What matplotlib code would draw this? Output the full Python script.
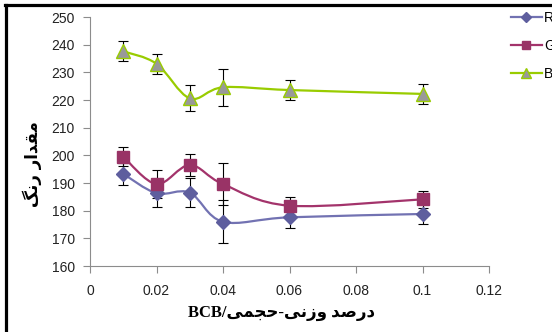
import re
import numpy as np
import matplotlib
matplotlib.use("Agg")
import matplotlib.pyplot as plt
from matplotlib.path import Path
from matplotlib.patches import PathPatch
from matplotlib.lines import Line2D

plt.rcParams['font.family'] = ['Liberation Sans', 'DejaVu Sans']

# data
x = [0.01, 0.02, 0.03, 0.04, 0.06, 0.1]
r_vals = [193.3, 186.3, 186.5, 176.0, 177.6, 178.8]
r_err = [4.0, 5.0, 5.3, 7.8, 4.0, 3.6]
g_vals = [199.5, 189.6, 196.5, 189.6, 181.8, 184.1]
g_err = [3.4, 5.0, 4.0, 7.7, 3.3, 3.1]
b_vals = [237.6, 233.1, 220.6, 224.6, 223.6, 222.2]
b_err = [3.6, 3.6, 4.7, 6.6, 3.6, 3.6]
labels = ['R', 'G', 'B']
xticks = [0, 0.02, 0.04, 0.06, 0.08, 0.1, 0.12]
xticklabels = ['0', '0.02', '0.04', '0.06', '0.08', '0.1', '0.12']
yticks = [160, 170, 180, 190, 200, 210, 220, 230, 240, 250]
xlabel = 'درصد وزنی-حجمی/BCB'
ylabel = 'مقدار رنگ'

# simple arabic/persian shaping (matplotlib does not shape)
FORMS = {
    'ا': ('\uFE8D', '\uFE8E', None, None),
    'د': ('\uFEA9', '\uFEAA', None, None),
    'ر': ('\uFEAD', '\uFEAE', None, None),
    'ز': ('\uFEAF', '\uFEB0', None, None),
    'و': ('\uFEED', '\uFEEE', None, None),
    'ص': ('\uFEB9', '\uFEBA', '\uFEBB', '\uFEBC'),
    'ن': ('\uFEE5', '\uFEE6', '\uFEE7', '\uFEE8'),
    'ح': ('\uFEA1', '\uFEA2', '\uFEA3', '\uFEA4'),
    'ج': ('\uFE9D', '\uFE9E', '\uFE9F', '\uFEA0'),
    'م': ('\uFEE1', '\uFEE2', '\uFEE3', '\uFEE4'),
    'ق': ('\uFED5', '\uFED6', '\uFED7', '\uFED8'),
    'ی': ('\uFBFC', '\uFBFD', '\uFBFE', '\uFBFF'),
    'گ': ('\uFB92', '\uFB93', '\uFB94', '\uFB95'),
}
DUAL = set('صنحجمقیگ')


def shape(s):
    out = []
    for i, ch in enumerate(s):
        if ch not in FORMS:
            out.append(ch)
            continue
        prev = s[i - 1] if i > 0 else ''
        nxt = s[i + 1] if i + 1 < len(s) else ''
        jp = prev in DUAL
        jn = ch in DUAL and nxt in FORMS
        iso, fin, ini, med = FORMS[ch]
        if jp and jn:
            out.append(med)
        elif jp:
            out.append(fin)
        elif jn:
            out.append(ini)
        else:
            out.append(iso)
    return ''.join(out)


def visual(s):
    parts = re.findall(r'[A-Za-z0-9]+|[^A-Za-z0-9]+', shape(s))
    return ''.join(p if p[0].isascii() and p[0].isalnum() else p[::-1]
                   for p in reversed(parts))


def smooth_path(xs, ys):
    # excel-like smoothed line, bezier through the points
    pts = np.column_stack([xs, ys])
    n = len(pts)
    verts = [pts[0]]
    codes = [Path.MOVETO]
    for i in range(n - 1):
        p0 = pts[i - 1] if i > 0 else pts[i]
        p1 = pts[i]
        p2 = pts[i + 1]
        p3 = pts[i + 2] if i + 2 < n else pts[i + 1]
        verts += [p1 + (p2 - p0) / 6, p2 - (p3 - p1) / 6, p2]
        codes += [Path.CURVE4] * 3
    return Path(verts, codes)


fig = plt.figure(figsize=(5.52, 3.32), dpi=100)
ax = fig.add_axes([90 / 552, 1 - 266 / 332, 399 / 552, 249 / 332])

series = [
    (r_vals, r_err, '#7272B2', 'D', '#5E5E9E', '#5E5E9E', 7),
    (g_vals, g_err, '#A3336B', 's', '#993366', '#993366', 9),
    (b_vals, b_err, '#99CC00', '^', '#999999', '#99CC00', 10),
]
handles = []
for (vals, err, col, mk, fc, ec, ms), lab in zip(series, labels):
    ax.add_patch(PathPatch(smooth_path(x, vals), fill=False, edgecolor=col,
                           lw=1.6, zorder=2))
    ax.errorbar(x, vals, yerr=err, fmt='none', ecolor='black', elinewidth=0.8,
                capsize=3.5, capthick=0.8, zorder=3)
    ax.plot(x, vals, ls='none', marker=mk, ms=ms, mfc=fc, mec=ec, mew=1,
            zorder=4)
    handles.append(Line2D([], [], color=col, lw=1.6, marker=mk, ms=ms * 0.7,
                          mfc=fc, mec=ec, mew=1, label=lab))

ax.set_xlim(0, 0.12)
ax.set_ylim(160, 250)
ax.set_xticks(xticks)
ax.set_xticklabels(xticklabels)
ax.set_yticks(yticks)
for s in ['top', 'right']:
    ax.spines[s].set_visible(False)
for s in ['left', 'bottom']:
    ax.spines[s].set_color('#8C8C8C')
ax.tick_params(axis='both', colors='#8C8C8C', labelcolor='#222222',
               labelsize=10, length=5, direction='out')
ax.tick_params(axis='y', pad=6)
ax.tick_params(axis='x', pad=8)

fig.legend(handles=handles, loc='upper left',
           bbox_to_anchor=(511 / 552, 1 - 11 / 332), frameon=False,
           borderpad=0, borderaxespad=0, handlelength=2.2, handletextpad=0.2,
           labelspacing=1.0, fontsize=10, numpoints=1)

fig.text(282 / 552, 1 - 313 / 332, visual(xlabel), ha='center', va='center',
         fontsize=12, weight='bold',
         family=['Liberation Serif', 'DejaVu Sans'])
fig.text(32 / 552, 1 - 164 / 332, visual(ylabel), ha='center', va='center',
         rotation=90, fontsize=12, weight='bold',
         family=['DejaVu Sans'])

# outer frame (left and top visible)
fig.add_artist(Line2D([6 / 552, 6 / 552], [0, 1 - 5 / 332],
                      transform=fig.transFigure, color='black', lw=2.3))
fig.add_artist(Line2D([5 / 552, 1], [1 - 5 / 332, 1 - 5 / 332],
                      transform=fig.transFigure, color='black', lw=2.3))

fig.savefig('out.png', dpi=100)
